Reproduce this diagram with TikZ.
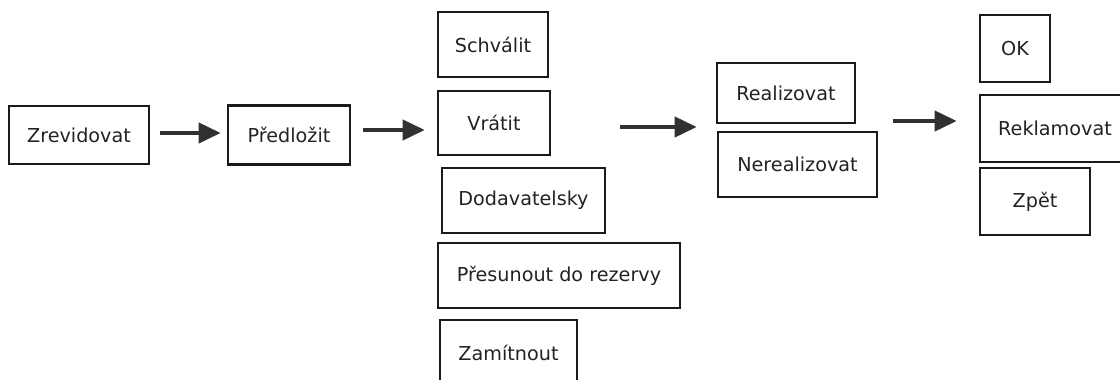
\documentclass[tikz,border=0pt]{standalone}
\usepackage{fontspec}
\setmainfont{DejaVu Sans}
\usetikzlibrary{arrows.meta}
\definecolor{boxline}{HTML}{1A1A1A}
\definecolor{boxtext}{HTML}{222222}

\begin{document}
\begin{tikzpicture}[x=1pt,y=-1pt,
				box node/.style={rectangle,draw=boxline,line width=2.6pt,text=boxtext,
					font=\fontsize{19.2}{23}\selectfont,inner sep=0pt},
				flow/.style={-{Triangle[length=22pt,width=20pt]},line width=4pt,draw=boxline!90!white}]
				\useasboundingbox (0,0) rectangle (1120,380);
				
				\node[box node,minimum width=140pt,minimum height=58pt] (Zrev) at (79,135) {Zrevidovat};
				\node[box node,minimum width=122pt,minimum height=59pt] (Pred) at (289,135) {Předložit};
				\node[box node,minimum width=110pt,minimum height=65pt] (Schv) at (493,44.5) {Schválit};
				\node[box node,minimum width=112pt,minimum height=64pt] (Vrat) at (494,123) {Vrátit};
				\node[box node,minimum width=163pt,minimum height=65pt] (Dod) at (523.5,200.5) {Dodavatelsky};
				\node[box node,minimum width=242pt,minimum height=65pt] (Pres) at (559,275.5) {Přesunout do rezervy};
				\node[box node,minimum width=137pt,minimum height=66pt] (Zam) at (508.5,353) {Zamítnout};
				\node[box node,minimum width=138pt,minimum height=60pt] (Real) at (786,93) {Realizovat};
				\node[box node,minimum width=159pt,minimum height=65pt] (Nereal) at (797.5,164.5) {Nerealizovat};
				\node[box node,minimum width=70pt,minimum height=67pt] (OK) at (1015,48.5) {OK};
				\node[box node,minimum width=150pt,minimum height=67pt] (Rekl) at (1055,128.5) {Reklamovat};
				\node[box node,minimum width=110pt,minimum height=67pt] (Zpet) at (1035,201.5) {Zpět};
				
				\draw[flow,shorten <=10pt,shorten >=6pt] ([yshift=2pt]Zrev.east) -- ([yshift=2pt]Zrev.east -| Pred.west);
				\draw[flow,shorten <=12pt,shorten >=12pt] ([yshift=5pt]Pred.east) -- ([yshift=5pt]Pred.east -| Vrat.west);
				\draw[flow,shorten <=69pt,shorten >=19pt] ([yshift=-4pt]Vrat.east) -- ([yshift=-4pt]Vrat.east -| Real.west);
				\draw[flow,shorten <=37pt,shorten >=22pt] ([yshift=-28pt]Real.east) -- ([yshift=-28pt]Real.east -| Rekl.west);
			\end{tikzpicture}
\end{document}
